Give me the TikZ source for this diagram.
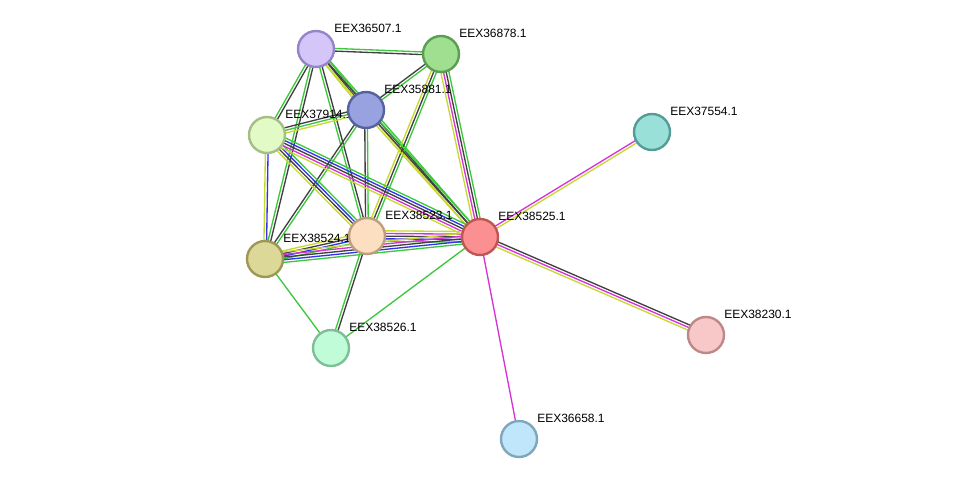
\documentclass[tikz,border=0pt]{standalone}
\usepackage{fontspec}
\setmainfont{Liberation Sans}
\usetikzlibrary{calc,backgrounds}

\definecolor{evgreen}{RGB}{60,200,60}
\definecolor{evblack}{RGB}{64,64,64}
\definecolor{evyellow}{RGB}{200,216,50}
\definecolor{evblue}{RGB}{50,50,240}
\definecolor{evpink}{RGB}{214,50,214}

\tikzset{
  prot/.style={circle, draw, line width=1.8pt, minimum size=27pt, inner sep=0pt},
  lbl/.style={anchor=west, inner sep=0pt, font=\fontsize{9}{10}\selectfont},
  ev/.style={line width=1pt}
}

% parallel evidence lines between two proteins
\newcommand{\link}[4]{%
  \foreach \col [count=\i] in {#4} {
    \pgfmathsetmacro{\off}{(\i-(#3+1)/2)*2.0}
    \draw[ev, \col] ($(#1)!\off pt!90:(#2)$) -- ($(#2)!\off pt!-90:(#1)$);
  }
}

\begin{document}
\begin{tikzpicture}[x=0.75pt, y=-0.75pt]
    \useasboundingbox (0,0) rectangle (975,485);

    % protein positions
    \coordinate (p36507) at (316,49);
    \coordinate (p36878) at (441,54);
    \coordinate (p35881) at (366,110);
    \coordinate (p37914) at (267,135);
    \coordinate (p37554) at (652,132);
    \coordinate (p38523) at (367,236);
    \coordinate (p38525) at (480,237);
    \coordinate (p38524) at (265,259);
    \coordinate (p38526) at (331,348);
    \coordinate (p38230) at (706,335);
    \coordinate (p36658) at (519,439);

    % labels
    \node[lbl] (l36507) at ($(p36507)+(18,-21)$) {EEX36507.1};
    \node[lbl] (l36878) at ($(p36878)+(18,-21)$) {EEX36878.1};
    \node[lbl] (l35881) at ($(p35881)+(18,-21)$) {EEX35881.1};
    \node[lbl] (l37914) at ($(p37914)+(18,-21)$) {EEX37914.1};
    \node[lbl] (l37554) at ($(p37554)+(18,-21)$) {EEX37554.1};
    \node[lbl] (l38523) at ($(p38523)+(18,-21)$) {EEX38523.1};
    \node[lbl] (l38525) at ($(p38525)+(18,-21)$) {EEX38525.1};
    \node[lbl] (l38524) at ($(p38524)+(18,-21)$) {EEX38524.1};
    \node[lbl] (l38526) at ($(p38526)+(18,-21)$) {EEX38526.1};
    \node[lbl] (l38230) at ($(p38230)+(18,-21)$) {EEX38230.1};
    \node[lbl] (l36658) at ($(p36658)+(18,-21)$) {EEX36658.1};

    % proteins
    \node[prot, fill={rgb,255:red,212;green,198;blue,248}, draw={rgb,255:red,150;green,132;blue,200}] (n36507) at (p36507) {};
    \node[prot, fill={rgb,255:red,160;green,222;blue,144}, draw={rgb,255:red,90;green,158;blue,80}] (n36878) at (p36878) {};
    \node[prot, fill={rgb,255:red,152;green,162;blue,224}, draw={rgb,255:red,86;green,98;blue,160}] (n35881) at (p35881) {};
    \node[prot, fill={rgb,255:red,226;green,251;blue,198}, draw={rgb,255:red,164;green,190;blue,134}] (n37914) at (p37914) {};
    \node[prot, fill={rgb,255:red,152;green,224;blue,216}, draw={rgb,255:red,86;green,156;blue,150}] (n37554) at (p37554) {};
    \node[prot, fill={rgb,255:red,252;green,222;blue,192}, draw={rgb,255:red,190;green,158;blue,128}] (n38523) at (p38523) {};
    \node[prot, fill={rgb,255:red,252;green,144;blue,144}, draw={rgb,255:red,190;green,86;blue,86}] (n38525) at (p38525) {};
    \node[prot, fill={rgb,255:red,220;green,216;blue,152}, draw={rgb,255:red,158;green,152;blue,86}] (n38524) at (p38524) {};
    \node[prot, fill={rgb,255:red,192;green,252;blue,216}, draw={rgb,255:red,128;green,190;blue,152}] (n38526) at (p38526) {};
    \node[prot, fill={rgb,255:red,248;green,200;blue,200}, draw={rgb,255:red,190;green,136;blue,136}] (n38230) at (p38230) {};
    \node[prot, fill={rgb,255:red,192;green,230;blue,252}, draw={rgb,255:red,128;green,166;blue,190}] (n36658) at (p36658) {};

    % interactions
    \begin{pgfonlayer}{background}
        \link{n36507}{n36878}{2}{evblack,evgreen}
        \link{n36507}{n35881}{3}{evyellow,evblack,evgreen}
        \link{n36507}{n37914}{2}{evgreen,evblack}
        \link{n36507}{n38524}{2}{evgreen,evblack}
        \link{n36507}{n38523}{2}{evgreen,evblack}
        \link{n36507}{n38525}{3}{evyellow,evblack,evgreen}
        \link{n36878}{n35881}{2}{evblack,evgreen}
        \link{n36878}{n38523}{3}{evyellow,evblack,evgreen}
        \link{n36878}{n38525}{4}{evyellow,evpink,evblack,evgreen}
        \link{n35881}{n37914}{3}{evblack,evgreen,evyellow}
        \link{n35881}{n38523}{2}{evblack,evgreen}
        \link{n35881}{n38524}{2}{evblack,evgreen}
        \link{n35881}{n38525}{3}{evyellow,evblack,evgreen}
        \link{n37914}{n38523}{4}{evyellow,evblack,evblue,evgreen}
        \link{n37914}{n38525}{5}{evyellow,evpink,evblack,evblue,evgreen}
        \link{n37914}{n38524}{2}{evyellow,evblue}
        \link{n38523}{n38524}{4}{evyellow,evblack,evblue,evgreen}
        \link{n38523}{n38525}{5}{evgreen,evblue,evblack,evpink,evyellow}
        \link{n38524}{n38525}{5}{evgreen,evblue,evblack,evpink,evyellow}
        \link{n38524}{n38526}{1}{evgreen}
        \link{n38523}{n38526}{2}{evgreen,evblack}
        \link{n38525}{n38526}{1}{evgreen}
        \link{n38525}{n37554}{2}{evyellow,evpink}
        \link{n38525}{n38230}{3}{evyellow,evpink,evblack}
        \link{n38525}{n36658}{1}{evpink}
    \end{pgfonlayer}
\end{tikzpicture}
\end{document}
